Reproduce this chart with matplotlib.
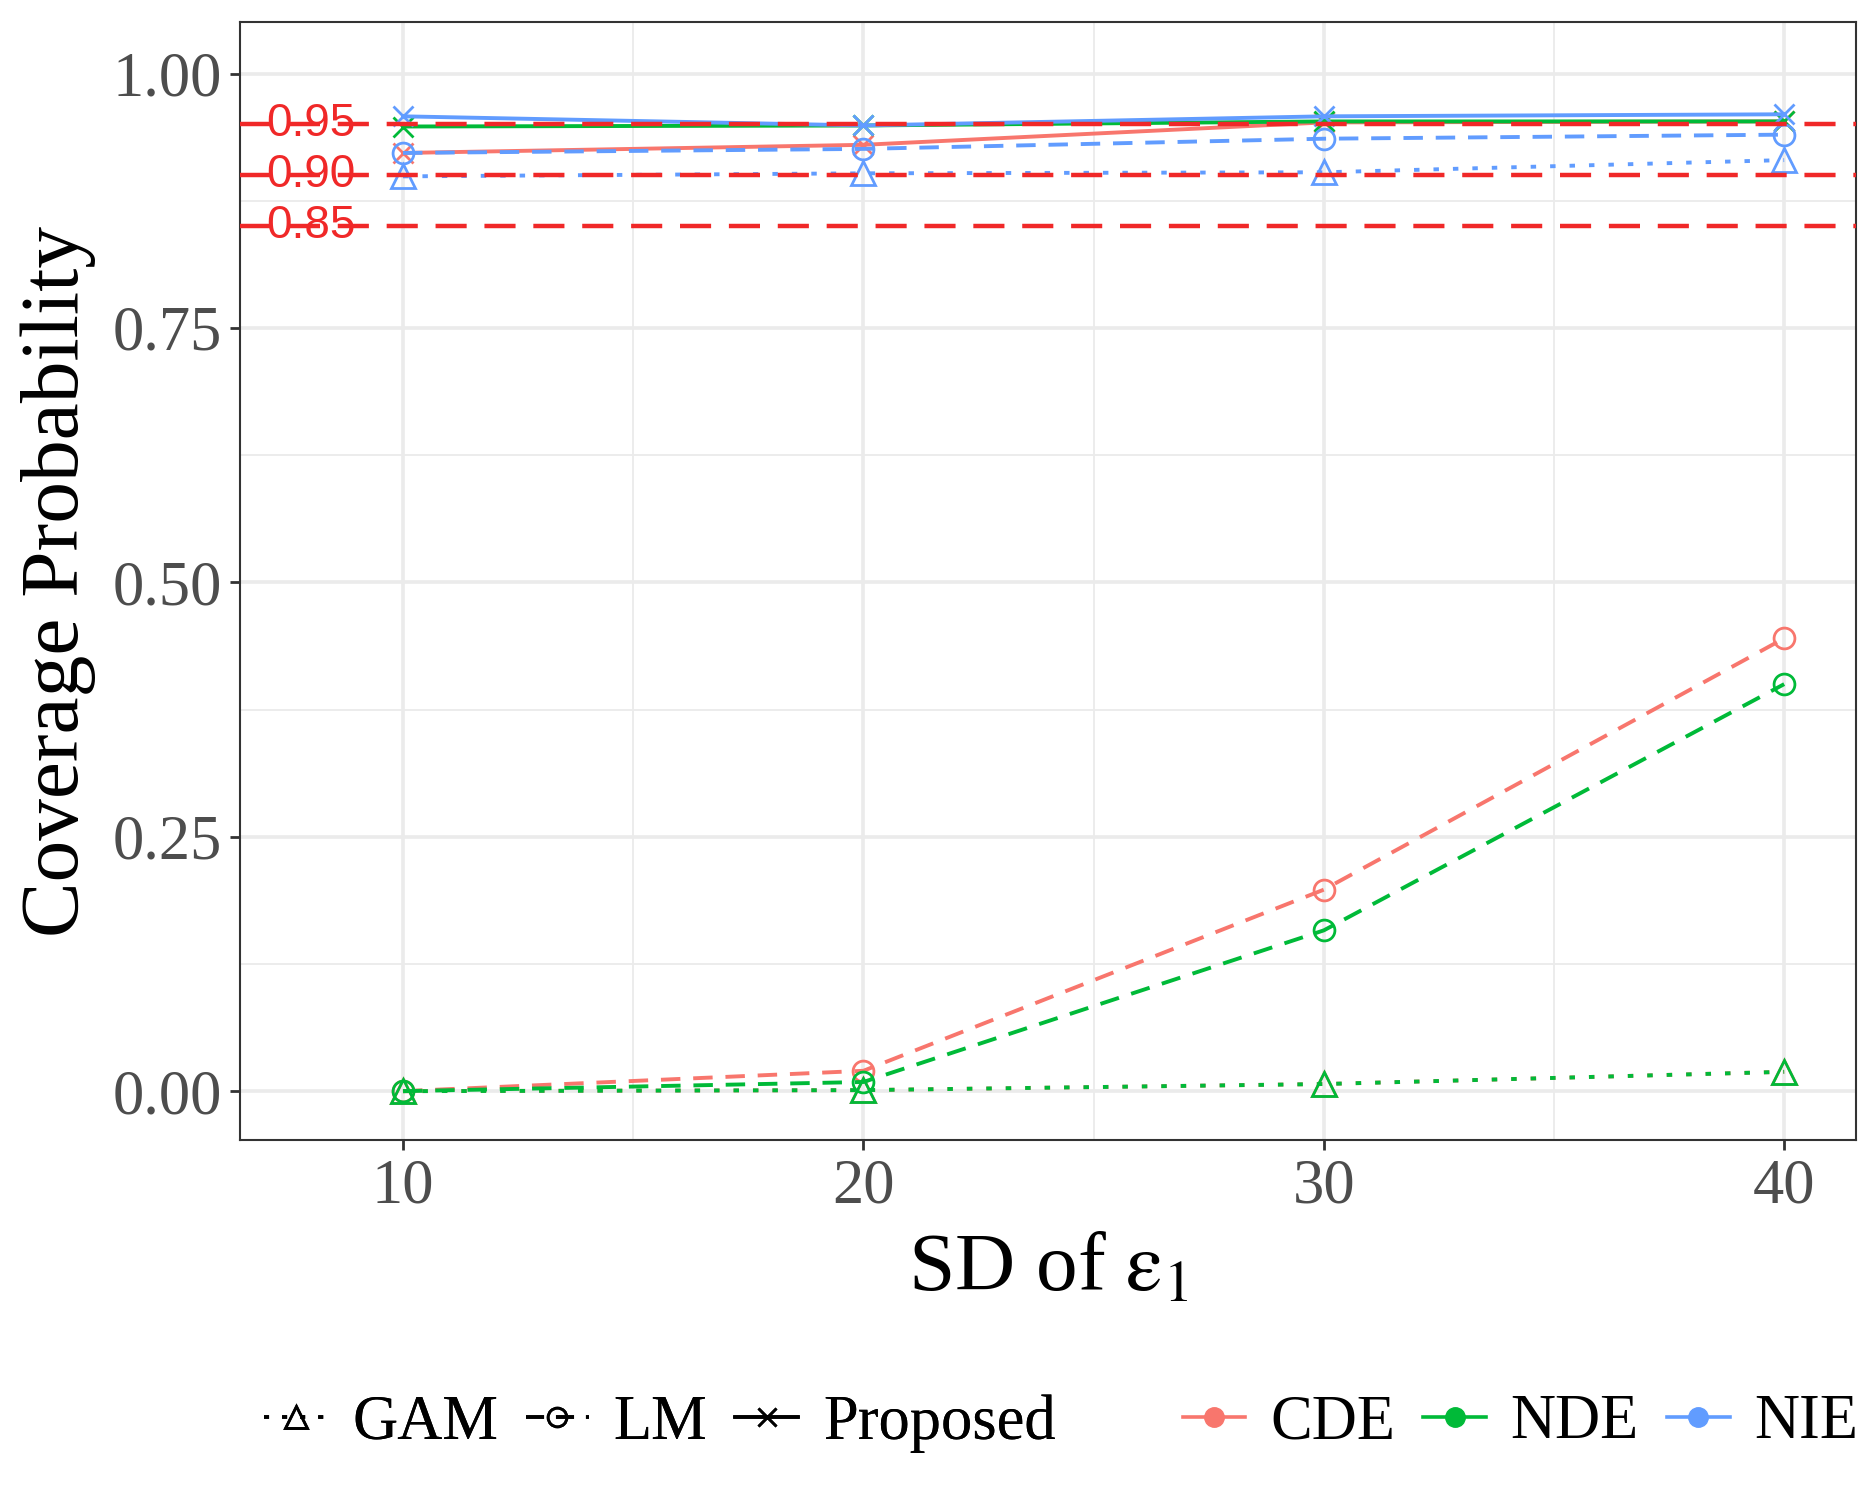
import numpy as np
import matplotlib
matplotlib.use("Agg")
import matplotlib.pyplot as plt
from matplotlib.lines import Line2D
from matplotlib.ticker import MultipleLocator

plt.rcParams['font.family'] = ['Liberation Serif', 'DejaVu Serif']
plt.rcParams['mathtext.fontset'] = 'stix'

# data
sd = [10, 20, 30, 40]
effects = ["CDE", "NDE", "NIE"]
methods = ["GAM", "LM", "Proposed"]

cov = {
    ("CDE", "GAM"): [0.000, 0.001, 0.007, 0.019],
    ("CDE", "LM"): [0.000, 0.020, 0.198, 0.445],
    ("CDE", "Proposed"): [0.922, 0.930, 0.952, 0.953],
    ("NDE", "GAM"): [0.000, 0.001, 0.007, 0.019],
    ("NDE", "LM"): [0.000, 0.009, 0.158, 0.400],
    ("NDE", "Proposed"): [0.948, 0.949, 0.953, 0.953],
    ("NIE", "GAM"): [0.899, 0.902, 0.903, 0.915],
    ("NIE", "LM"): [0.922, 0.926, 0.936, 0.940],
    ("NIE", "Proposed"): [0.958, 0.949, 0.958, 0.960],
}
ref_levels = [0.95, 0.90, 0.85]
ref_labels = ["0.95", "0.90", "0.85"]

colors = {"CDE": "#F8766D", "NDE": "#00BA38", "NIE": "#619CFF"}
lstyles = {"GAM": (0, (1.4, 3.6)), "LM": (0, (5, 3.3)), "Proposed": "-"}
markers = {"GAM": "^", "LM": "o", "Proposed": "x"}
msizes = {"GAM": 17, "LM": 15, "Proposed": 15}

fig = plt.figure(figsize=(18.75, 15), dpi=100)
ax = fig.add_axes([240 / 1875, 1 - 1140 / 1500, (1856 - 240) / 1875, (1140 - 22) / 1500])

for e in effects:
    for m in methods:
        ax.plot(sd, cov[(e, m)], color=colors[e], linestyle=lstyles[m], lw=2.8,
                marker=markers[m], markersize=msizes[m], markerfacecolor='none',
                markeredgewidth=2.0, zorder=3)

red = '#F02828'
for lv, lb in zip(ref_levels, ref_labels):
    ax.axhline(lv, color=red, lw=3.2, linestyle=(0, (7, 4)), zorder=4)
    ax.text(8, lv, lb, color=red, fontsize=33, family='Liberation Sans',
            ha='center', va='center', zorder=5)

ax.set_xlim(6.46, 41.56)
ax.set_ylim(-0.048, 1.0507)
ax.set_xticks(sd)
ax.set_yticks([0, 0.25, 0.5, 0.75, 1.0])
ax.set_yticklabels(["0.00", "0.25", "0.50", "0.75", "1.00"])
ax.xaxis.set_minor_locator(MultipleLocator(5))
ax.yaxis.set_minor_locator(MultipleLocator(0.125))
ax.grid(which='major', color='#EBEBEB', lw=2.6)
ax.grid(which='minor', color='#EBEBEB', lw=1.3)
ax.set_axisbelow(True)
ax.tick_params(which='major', length=7, width=2, color='#333333',
               labelsize=45, labelcolor='#4D4D4D', pad=6)
ax.tick_params(which='minor', length=0)
for s in ax.spines.values():
    s.set_color('#333333')
    s.set_linewidth(1.5)

ax.set_ylabel("Coverage Probability", fontsize=60, labelpad=12)
ax.set_xlabel(r"SD of $\mathrm{\varepsilon}_1$", fontsize=60, labelpad=12)

h1 = [Line2D([], [], color='black', linestyle=lstyles[m], lw=2.6, marker=markers[m],
             markersize=msizes[m] * 0.9, markerfacecolor='none', markeredgewidth=2.0)
      for m in methods]
h2 = [Line2D([], [], color=colors[e], lw=2.6, marker='o', markersize=14)
      for e in effects]
leg1 = fig.legend(h1, methods, loc='center', bbox_to_anchor=(0.352, 0.051), ncol=3,
                  frameon=False, fontsize=45, handlelength=1.0, handletextpad=0.4,
                  columnspacing=0.45)
fig.add_artist(leg1)
fig.legend(h2, effects, loc='center', bbox_to_anchor=(0.811, 0.051), ncol=3,
           frameon=False, fontsize=45, handlelength=1.0, handletextpad=0.4,
           columnspacing=0.45)

fig.savefig("out.png", dpi=100)
